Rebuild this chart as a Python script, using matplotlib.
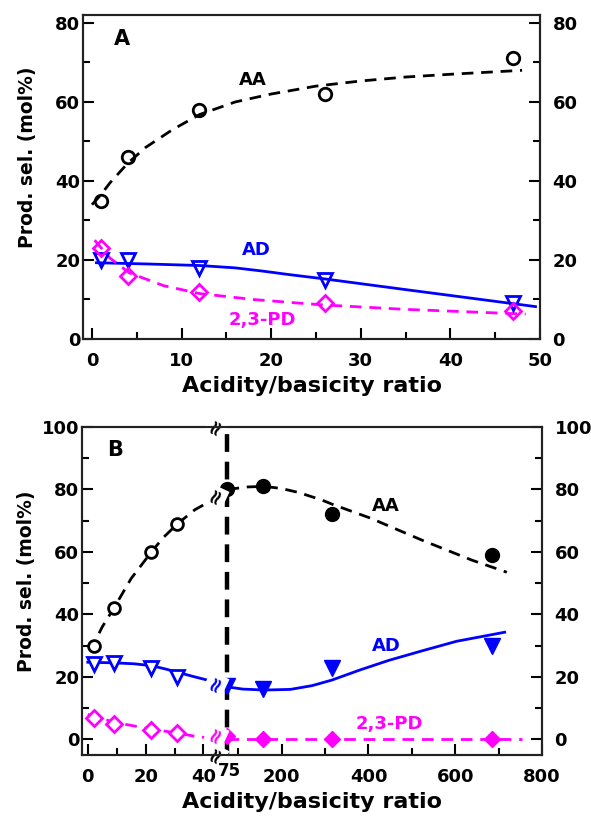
import numpy as np
import matplotlib
matplotlib.use('Agg')
import matplotlib.pyplot as plt
from matplotlib.ticker import FixedLocator, FixedFormatter, NullFormatter
import matplotlib.transforms as mtransforms

plt.rcParams['font.family'] = ['DejaVu Sans']
plt.rcParams['font.weight'] = 'bold'

BLUE = '#0000FF'
MAG = '#FF00FF'

# ---------------- Panel A data ----------------
a_x = [1, 4, 12, 26, 47]
a_aa = [35, 46, 58, 62, 71]
a_ad = [20, 20, 18, 15, 9]
a_pd = [23, 16, 12, 9, 7]

# fitted curves
a_aa_fit_x = [0, 1, 2, 4, 6, 9, 12, 16, 20, 25, 30, 35, 40, 48]
a_aa_fit_y = [34, 36.5, 39.5, 44.5, 48.5, 53, 56.8, 60, 62, 64, 65.3, 66.3, 67, 68]
a_ad_fit_x = [0.5, 6, 12, 16, 19, 22, 26, 35, 49.5]
a_ad_fit_y = [19.3, 19, 18.6, 18, 17.2, 16.3, 15.2, 12.5, 8.2]
a_pd_fit_x = [0.3, 2, 4.2, 8, 12, 18, 23, 26, 35, 48.4]
a_pd_fit_y = [25, 20.5, 16.7, 13.5, 11.5, 10, 9.1, 8.6, 7.5, 6.3]

# ---------------- Panel B data ----------------
b_x_low = [2, 9, 22, 31]
b_aa_low = [30, 42, 60, 69]
b_ad_low = [24, 24.5, 23, 20]
b_pd_low = [7, 5, 3, 2]
b_x_high = [75, 158, 316, 685]
b_aa_high = [80, 81, 72, 59]
b_ad_high = [17, 16, 23, 30]
b_pd_high = [1, 0, 0, 0]

b_aa_fit_low_x = [0.7, 2, 5, 9, 15, 22, 26, 31, 37, 43]
b_aa_fit_low_y = [28.5, 30.5, 36, 42, 51.5, 60, 64.5, 69, 73.5, 76.6]
b_aa_fit_high_x = [75, 120, 160, 200, 240, 293, 316, 405, 523, 638, 719]
b_aa_fit_high_y = [80, 80.8, 81, 80.3, 79, 76.6, 75.3, 70.8, 63.8, 57.4, 53.5]
b_ad_fit_low_x = [0, 9, 16, 22, 27, 31, 37, 43]
b_ad_fit_low_y = [24.7, 24.5, 24.2, 23.6, 22.5, 21.5, 20, 18.6]
b_ad_fit_high_x = [75, 110, 160, 220, 270, 316, 380, 447, 525, 603, 714]
b_ad_fit_high_y = [16.8, 16.1, 15.8, 16.0, 17.2, 19, 22.2, 25.3, 28.4, 31.4, 34.3]
b_pd_fit_low_x = [0, 2, 9, 16, 22, 31, 37, 43]
b_pd_fit_low_y = [8, 7.5, 5.5, 4.3, 3.3, 2, 1, 0.3]
b_pd_fit_high_x = [75, 753]
b_pd_fit_high_y = [0, 0]

b_major_ticks = [0, 20, 40, 200, 400, 600, 800]
b_minor_ticks = [10, 30, 75, 100, 300, 500, 700]

# broken-axis scale for panel B
BRK_L = 48.3     # left-unit position of the break
BRK_R = 75.0     # right-unit value at the break
RATIO = 0.15     # one right unit in left units


def fwd(x):
    x = np.asarray(x, dtype=float)
    return np.where(x <= BRK_L, x, BRK_L + (x - BRK_R) * RATIO)


def inv(y):
    y = np.asarray(y, dtype=float)
    return np.where(y <= BRK_L, y, BRK_R + (y - BRK_L) / RATIO)


DASH = (0, (4.2, 2.8))
LW = 2.0

fig = plt.figure(figsize=(5.91, 8.17), dpi=100)
axA = fig.add_axes([83 / 591, 1 - 339 / 817, (540 - 83) / 591, (339 - 15) / 817])
axB = fig.add_axes([82 / 591, 1 - 755 / 817, (542 - 82) / 591, (755 - 427) / 817])


def style(ax, ymaj, ymin, ylim):
    ax.set_ylim(*ylim)
    ax.yaxis.set_major_locator(FixedLocator(ymaj))
    ax.yaxis.set_minor_locator(FixedLocator(ymin))
    ax.tick_params(which='both', direction='in', top=False, right=False,
                   width=1.5, labelsize=13, colors='black')
    ax.tick_params(which='major', length=8)
    ax.tick_params(which='minor', length=5)
    ax.tick_params(axis='y', pad=2)
    ax.tick_params(axis='x', pad=9)
    for s in ax.spines.values():
        s.set_linewidth(1.5)
        s.set_color('#222222')
    axr = ax.twinx()
    axr.set_ylim(*ylim)
    axr.yaxis.set_major_locator(FixedLocator(ymaj))
    axr.yaxis.set_minor_locator(FixedLocator(ymin))
    axr.tick_params(which='both', direction='in', width=1.5, labelsize=13, pad=9)
    axr.tick_params(which='major', length=8)
    axr.tick_params(which='minor', length=5)
    for s in axr.spines.values():
        s.set_linewidth(1.5)
        s.set_color('#222222')
    return axr


# ---------------- Panel A ----------------
axA.plot(a_aa_fit_x, a_aa_fit_y, color='black', lw=LW, ls=DASH)
axA.plot(a_ad_fit_x, a_ad_fit_y, color=BLUE, lw=LW, ls='-')
axA.plot(a_pd_fit_x, a_pd_fit_y, color=MAG, lw=LW, ls=DASH)
axA.plot(a_x, a_aa, ls='none', marker='o', ms=9, mfc='none', mec='black', mew=2)
axA.plot(a_x, a_ad, ls='none', marker='v', ms=10.5, mfc='none', mec=BLUE, mew=2)
axA.plot(a_x, a_pd, ls='none', marker='D', ms=7.8, mfc='none', mec=MAG, mew=2)
axA.set_xlim(-1, 50)
axA.xaxis.set_major_locator(FixedLocator([0, 10, 20, 30, 40, 50]))
axA.xaxis.set_minor_locator(FixedLocator([5, 15, 25, 35, 45]))
style(axA, [0, 20, 40, 60, 80], [10, 30, 50, 70], (0, 82))
axA.text(3.4, 76, 'A', fontsize=15, ha='center', va='center')
axA.text(18.0, 65.5, 'AA', fontsize=13, ha='center', va='center', color='black')
axA.text(18.3, 22.5, 'AD', fontsize=13, ha='center', va='center', color=BLUE)
axA.text(19.0, 4.8, '2,3-PD', fontsize=13, ha='center', va='center', color=MAG)
axA.set_xlabel('Acidity/basicity ratio', fontsize=16, fontweight='bold')
axA.set_ylabel('Prod. sel. (mol%)', fontsize=13.5, fontweight='bold')
axA.xaxis.set_label_coords(0.5, -0.115)
axA.yaxis.set_label_coords(-0.10, 0.56)

# ---------------- Panel B ----------------
axB.set_xscale('function', functions=(fwd, inv))
axB.set_xlim(-2, 800)
axB.plot(b_aa_fit_low_x, b_aa_fit_low_y, color='black', lw=LW, ls=DASH)
axB.plot(b_aa_fit_high_x, b_aa_fit_high_y, color='black', lw=LW, ls=DASH)
axB.plot(b_ad_fit_low_x, b_ad_fit_low_y, color=BLUE, lw=LW, ls='-')
axB.plot(b_ad_fit_high_x, b_ad_fit_high_y, color=BLUE, lw=LW, ls='-')
axB.plot(b_pd_fit_low_x, b_pd_fit_low_y, color=MAG, lw=LW, ls=DASH)
axB.plot(b_pd_fit_high_x, b_pd_fit_high_y, color=MAG, lw=LW, ls=DASH)
axB.axvline(BRK_R, color='black', lw=3.2, ls=(0, (4, 2.2)), zorder=1)

axB.plot(b_x_low, b_aa_low, ls='none', marker='o', ms=8.5, mfc='white', mec='black', mew=2)
axB.plot(b_x_low, b_ad_low, ls='none', marker='v', ms=10.5, mfc='white', mec=BLUE, mew=2)
axB.plot(b_x_low, b_pd_low, ls='none', marker='D', ms=7.8, mfc='white', mec=MAG, mew=2)
axB.plot(b_x_high, b_aa_high, ls='none', marker='o', ms=10, mfc='black', mec='black')
axB.plot(b_x_high, b_ad_high, ls='none', marker='v', ms=11, mfc=BLUE, mec=BLUE)
axB.plot(b_x_high, b_pd_high, ls='none', marker='D', ms=8.5, mfc=MAG, mec=MAG)

axB.xaxis.set_major_locator(FixedLocator(b_major_ticks))
axB.xaxis.set_major_formatter(FixedFormatter([str(t) for t in b_major_ticks]))
axB.xaxis.set_minor_locator(FixedLocator(b_minor_ticks))
axB.xaxis.set_minor_formatter(NullFormatter())
style(axB, [0, 20, 40, 60, 80, 100], [10, 30, 50, 70, 90], (-5, 100))

# break marks
xb = inv(44.5)
trans = mtransforms.blended_transform_factory(axB.transData, axB.transAxes)
brk_kw = dict(rotation=65, ha='center', va='center', fontsize=15,
              bbox=dict(fc='white', ec='none', pad=0.2))
axB.text(float(xb), 1.0, '\u2248', transform=trans, color='black', clip_on=False, **brk_kw)
axB.text(float(xb), 0.0, '\u2248', transform=trans, color='black', clip_on=False, **brk_kw)
axB.text(float(xb), 78, '\u2248', color='black', **brk_kw)
axB.text(float(xb), 18, '\u2248', color=BLUE, **brk_kw)
axB.text(float(xb), 1.5, '\u2248', color=MAG, **brk_kw)
axB.text(BRK_R + 4, -0.02, '75', transform=trans, fontsize=12, ha='center', va='top')

axB.text(9.3, 92.6, 'B', fontsize=15, ha='center', va='center')
axB.text(441, 74.7, 'AA', fontsize=13, ha='center', va='center', color='black')
axB.text(441, 29.8, 'AD', fontsize=13, ha='center', va='center', color=BLUE)
axB.text(448, 4.8, '2,3-PD', fontsize=13, ha='center', va='center', color=MAG)
axB.set_xlabel('Acidity/basicity ratio', fontsize=16, fontweight='bold')
axB.set_ylabel('Prod. sel. (mol%)', fontsize=13.5, fontweight='bold')
axB.xaxis.set_label_coords(0.5, -0.113)
axB.yaxis.set_label_coords(-0.10, 0.53)

fig.savefig('out.png', dpi=100)
